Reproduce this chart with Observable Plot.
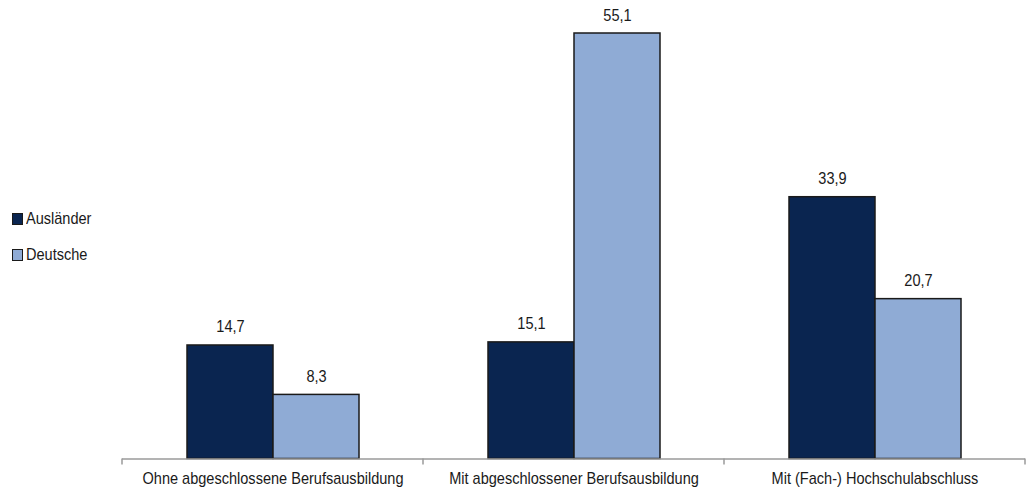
<!DOCTYPE html>
<html>
<head>
<meta charset="utf-8">
<script src="https://cdn.jsdelivr.net/npm/d3@7"></script>
<script src="https://cdn.jsdelivr.net/npm/@observablehq/plot@0.6"></script>
<style>
  html, body { margin: 0; padding: 0; background: #fff; }
  #wrap { position: relative; width: 1031px; height: 493px; font-family: "Liberation Sans", Arial, sans-serif; color: #1a1a1a; }
  #legend { position: absolute; left: 12px; top: 210px; font-size: 17px; }
  .item { display: flex; align-items: center; height: 18px; margin-bottom: 18px; }
  .sw { width: 9px; height: 10px; border: 1px solid #1a1a1a; margin-right: 3px; flex: none; }
  .lab { display: inline-block; transform: scaleX(0.855); transform-origin: left center; }
</style>
</head>
<body>
<div id="wrap"><div id="legend"></div></div>
<script>
const groups = ["Ohne abgeschlossene Berufsausbildung", "Mit abgeschlossener Berufsausbildung", "Mit (Fach-) Hochschulabschluss"];
const seriesNames = ["Ausländer", "Deutsche"];
const auslaender = [14.7, 15.1, 33.9];
const deutsche = [8.3, 55.1, 20.7];
const colors = ["#0a2550", "#8fabd5"];

const data = [];
groups.forEach((g, i) => {
  data.push({group: g, series: seriesNames[0], value: auslaender[i]});
  data.push({group: g, series: seriesNames[1], value: deutsche[i]});
});
const fmt = v => v.toFixed(1).replace(".", ",");
const font = '"Liberation Sans", Arial, sans-serif';

const chart = Plot.plot({
  width: 1031,
  height: 493,
  marginLeft: 121,
  marginRight: 6,
  marginTop: 33,
  marginBottom: 34.5,
  style: {fontFamily: font, fontSize: "17px", color: "#1a1a1a", background: "#fff"},
  fx: {domain: groups, padding: 0, label: null},
  x: {domain: seriesNames, paddingInner: 0, paddingOuter: 0.74, axis: null},
  y: {domain: [0, 55.1], axis: null},
  color: {domain: seriesNames, range: colors},
  marks: [
    Plot.barY(data, {fx: "group", x: "series", y: "value", fill: "series", stroke: "#1a1a1a", strokeWidth: 1.5}),
    Plot.text(data, {fx: "group", x: "series", y: "value", text: d => fmt(d.value), dy: -13, lineAnchor: "bottom", fill: "#1a1a1a", fontSize: 17}),
    Plot.ruleY([0], {stroke: "#9a9a9a", strokeWidth: 1.5}),
    Plot.axisFx({anchor: "bottom", tickSize: 0, tickPadding: 13, label: null, fontSize: 17})
  ]
});
document.getElementById("wrap").appendChild(chart);

// condensed look: compress text horizontally
d3.select(chart).selectAll("text").each(function() {
  const len = this.getComputedTextLength();
  if (len > 0) {
    this.setAttribute("textLength", len * 0.855);
    this.setAttribute("lengthAdjust", "spacingAndGlyphs");
  }
});

// group boundary ticks from the fx scale
const fx = chart.scale("fx");
const yS = chart.scale("y");
const y0 = yS.apply(0);
const edges = groups.map(g => fx.apply(g));
edges.push(fx.apply(groups[groups.length - 1]) + fx.bandwidth);
d3.select(chart).append("g")
  .selectAll("line").data(edges).join("line")
  .attr("x1", d => d).attr("x2", d => d)
  .attr("y1", y0).attr("y2", y0 + 6)
  .attr("stroke", "#9a9a9a").attr("stroke-width", 1.5);

const legend = d3.select("#legend");
seriesNames.forEach((s, i) => {
  const it = legend.append("div").attr("class", "item");
  it.append("div").attr("class", "sw").style("background", colors[i]);
  it.append("span").attr("class", "lab").text(s);
});
</script>
</body>
</html>
